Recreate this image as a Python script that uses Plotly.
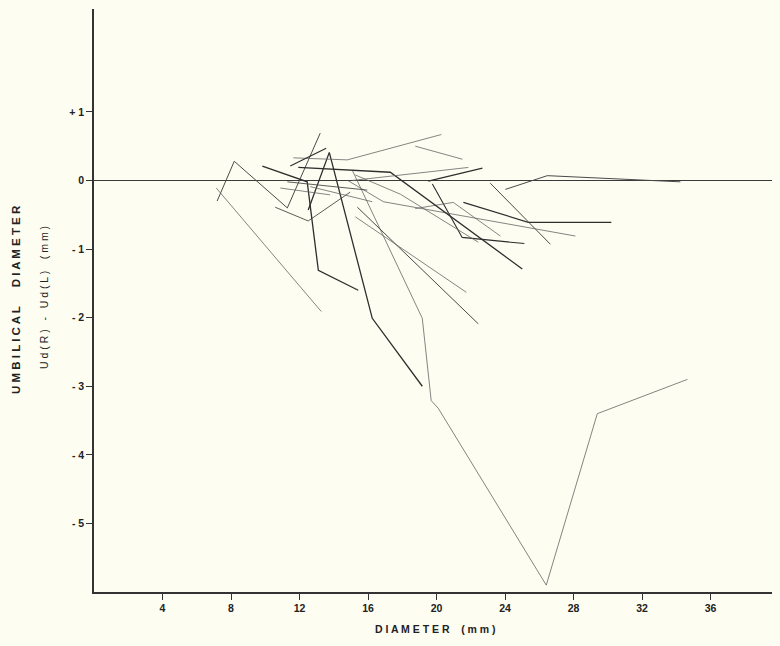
import plotly.graph_objects as go

# ---- data: diameter (mm) vs Ud(R)-Ud(L) (mm), one pair of lists per specimen ----
zero_d = [0, 40]
zero_v = [0, 0]

s01_d = [7.19, 8.19, 11.29, 13.21]
s01_v = [-0.30, 0.28, -0.40, 0.69]
s02_d = [7.14, 13.27]
s02_v = [-0.11, -1.91]
s03_d = [10.58, 12.51, 14.96]
s03_v = [-0.39, -0.59, -0.17]
s04_d = [12.51, 13.74, 16.25, 19.17]
s04_v = [-0.43, 0.41, -2.01, -3.00]
s05_d = [9.83, 12.45, 13.10, 15.43]
s05_v = [0.21, -0.02, -1.31, -1.60]
s06_d = [15.08, 19.17, 19.69, 20.10, 26.41, 29.39, 34.65]
s06_v = [0.15, -2.01, -3.21, -3.32, -5.90, -3.40, -2.90]
s07_d = [19.76, 21.50, 25.13]
s07_v = [-0.05, -0.83, -0.92]
s08_d = [18.76, 20.98, 23.73]
s08_v = [-0.41, -0.32, -0.81]
s09_d = [21.57, 25.36, 30.21]
s09_v = [-0.32, -0.61, -0.61]
s10_d = [23.14, 26.65]
s10_v = [-0.04, -0.93]
s11_d = [14.82, 16.90, 28.11]
s11_v = [0.00, -0.31, -0.81]
s12_d = [15.26, 17.89, 22.44]
s12_v = [0.08, -0.20, -0.90]
s13_d = [11.93, 17.30, 25.01]
s13_v = [0.19, 0.12, -1.29]
s14_d = [15.08, 21.86]
s14_v = [0.00, 0.19]
s15_d = [19.52, 22.68]
s15_v = [-0.01, 0.18]
s16_d = [24.02, 26.47, 34.24]
s16_v = [-0.13, 0.07, -0.02]
s17_d = [18.76, 21.51]
s17_v = [0.50, 0.31]
s18_d = [11.64, 14.79, 20.28]
s18_v = [0.33, 0.30, 0.67]
s19_d = [11.46, 13.56]
s19_v = [0.21, 0.47]
s20_d = [10.88, 13.79]
s20_v = [-0.11, -0.21]
s21_d = [11.29, 15.96]
s21_v = [-0.02, -0.14]
s22_d = [12.63, 16.25]
s22_v = [-0.09, -0.31]
s23_d = [15.38, 22.44]
s23_v = [-0.39, -2.09]
s24_d = [15.26, 21.74]
s24_v = [-0.53, -1.63]

x_tick_vals = [4, 8, 12, 16, 20, 24, 28, 32, 36]
x_tick_text = ["4", "8", "12", "16", "20", "24", "28", "32", "36"]
y_tick_vals = [1, 0, -1, -2, -3, -4, -5]
y_tick_text = ["+ 1", "0", "- 1", "- 2", "- 3", "- 4", "- 5"]

DARK = "#2e2e2e"
MID = "#4a4a4a"
LIGHT = "#666666"
series = [
    (s01_d, s01_v, 1.0, MID),
    (s02_d, s02_v, 0.8, LIGHT),
    (s03_d, s03_v, 0.9, MID),
    (s04_d, s04_v, 1.3, DARK),
    (s05_d, s05_v, 1.3, DARK),
    (s06_d, s06_v, 0.8, LIGHT),
    (s07_d, s07_v, 1.1, DARK),
    (s08_d, s08_v, 0.8, LIGHT),
    (s09_d, s09_v, 1.2, DARK),
    (s10_d, s10_v, 1.0, MID),
    (s11_d, s11_v, 0.8, LIGHT),
    (s12_d, s12_v, 0.8, LIGHT),
    (s13_d, s13_v, 1.3, DARK),
    (s14_d, s14_v, 0.8, LIGHT),
    (s15_d, s15_v, 1.2, DARK),
    (s16_d, s16_v, 1.0, MID),
    (s17_d, s17_v, 0.8, LIGHT),
    (s18_d, s18_v, 0.8, LIGHT),
    (s19_d, s19_v, 1.1, DARK),
    (s20_d, s20_v, 0.8, LIGHT),
    (s21_d, s21_v, 0.9, MID),
    (s22_d, s22_v, 0.8, LIGHT),
    (s23_d, s23_v, 1.0, MID),
    (s24_d, s24_v, 0.8, LIGHT),
]

bg = "#fdfdf1"
FONT = "Liberation Sans, Arial, sans-serif"
fig = go.Figure()
fig.add_trace(go.Scatter(x=zero_d, y=zero_v, mode="lines",
                         line=dict(color="#3a3a3a", width=1.1),
                         hoverinfo="skip", showlegend=False))
for d, v, w, c in series:
    fig.add_trace(go.Scatter(x=d, y=v, mode="lines",
                             line=dict(color=c, width=w),
                             showlegend=False))

tick_font = dict(family=FONT, size=10.5, color="#222222")

# the page body adds 8 px, so the figure is 772 x 638 to fill the 780 x 646 window
W, H = 772, 638
L, R, T, B = 86, 1, 1, 54
PW, PH = W - L - R, H - T - B

fig.update_layout(
    width=W, height=H,
    margin=dict(l=L, r=R, t=T, b=B, autoexpand=False),
    paper_bgcolor=bg, plot_bgcolor=bg,
    xaxis=dict(range=[0, 40], showgrid=False, zeroline=False,
               showline=True, linecolor="#333333", linewidth=1.5,
               tickmode="array", tickvals=x_tick_vals,
               ticktext=["<b>%s</b>" % t for t in x_tick_text],
               ticks="outside", ticklen=6, tickwidth=1.2, tickcolor="#333333",
               tickfont=tick_font),
    yaxis=dict(range=[-6, 2.5], showgrid=False, zeroline=False,
               showline=True, linecolor="#333333", linewidth=1.5,
               tickmode="array", tickvals=y_tick_vals,
               ticktext=["<b>%s</b>" % t for t in y_tick_text],
               ticks="outside", ticklen=6, tickwidth=1.2, tickcolor="#333333",
               tickfont=tick_font),
    annotations=[
        dict(text="<b>D I A M E T E R    ( m m )</b>", xref="paper", yref="paper",
             x=(435 - 8 - L) / PW, y=-(629 - 8 - (T + PH)) / PH,
             xanchor="center", yanchor="middle", showarrow=False,
             font=dict(family=FONT, size=10.5, color="#222222")),
        dict(text="<b>U M B I L I C A L      D I A M E T E R</b>", xref="paper", yref="paper",
             x=-(L - (16 - 8)) / PW, y=(T + PH - (300 - 8)) / PH,
             xanchor="center", yanchor="middle",
             textangle=-90, showarrow=False,
             font=dict(family=FONT, size=11.5, color="#222222")),
        dict(text="U d ( R )   -   U d ( L )    ( m m )", xref="paper", yref="paper",
             x=-(L - (44 - 8)) / PW, y=(T + PH - (298 - 8)) / PH,
             xanchor="center", yanchor="middle",
             textangle=-90, showarrow=False,
             font=dict(family=FONT, size=10.5, color="#222222")),
    ],
)

fig.write_html("out.html",
               post_script="document.body.style.backgroundColor='%s';"
                           "document.documentElement.style.backgroundColor='%s';" % (bg, bg))
